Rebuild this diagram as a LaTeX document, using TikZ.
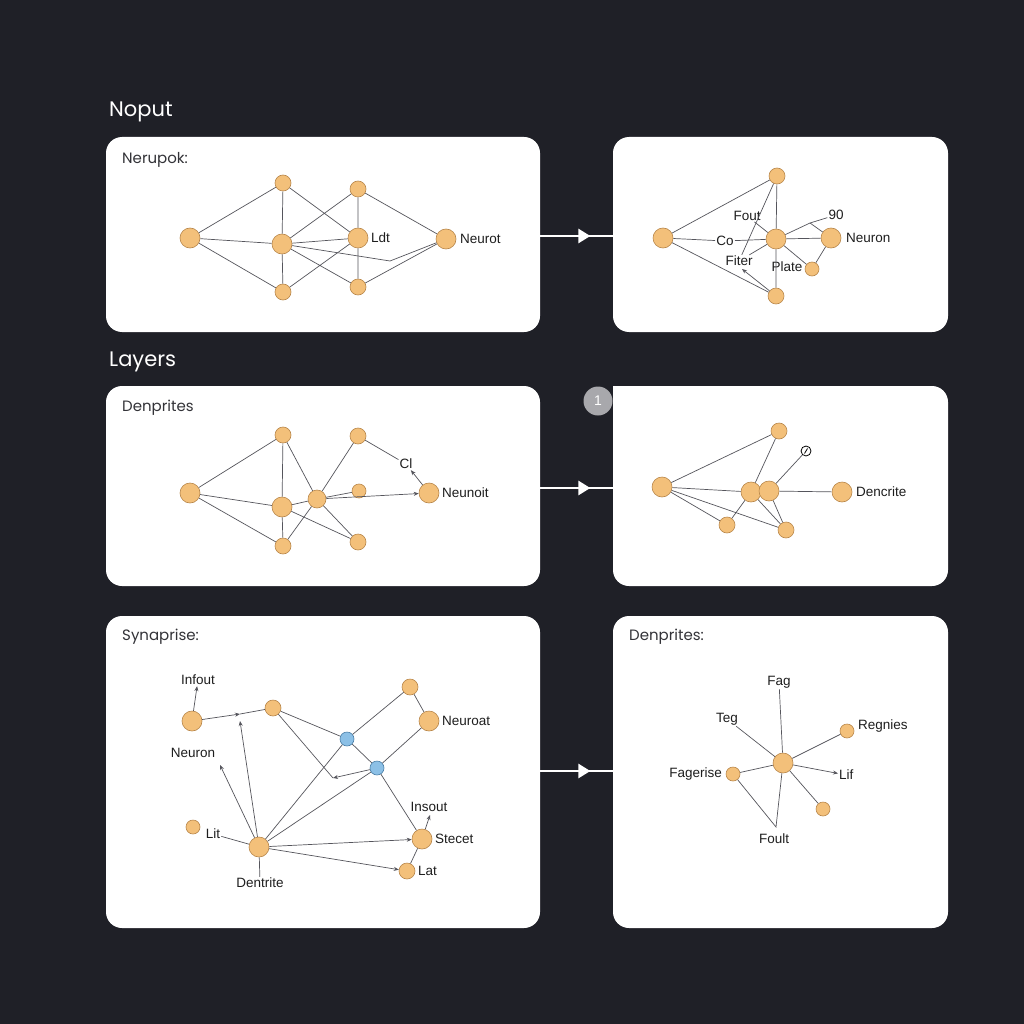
\documentclass[tikz,border=0pt]{standalone}
\usepackage{fontspec}
\setmainfont{Liberation Sans}
\newfontfamily\titlefont{Poppins}
\usetikzlibrary{arrows.meta,decorations.markings}
\definecolor{bg}{HTML}{1F2027}
\definecolor{of}{HTML}{F3C07A}
\definecolor{ob}{HTML}{B8864A}
\definecolor{bf}{HTML}{8CC0E6}
\definecolor{bb}{HTML}{4A7FA8}
\definecolor{lnc}{HTML}{55555C}
\definecolor{tx}{HTML}{1E1E1E}
\definecolor{hdc}{HTML}{333338}
\definecolor{gc}{HTML}{A8A8AC}
\begin{document}
\begin{tikzpicture}[x=1pt,y=-1pt,
  on/.style={circle,draw=ob,fill=of,line width=0.6pt,inner sep=0pt,minimum size=#1},
  on/.default=16pt,
  bn/.style={circle,draw=bb,fill=bf,line width=0.6pt,inner sep=0pt,minimum size=14pt},
  lab/.style={font=\fontsize{13.5}{14}\selectfont,text=tx,inner sep=1pt},
  edg/.style={draw=lnc,line width=0.7pt},
  arr/.style={edg,-{Stealth[length=5pt,width=4pt]}},
  hd/.style={font=\titlefont\fontsize{15}{16}\selectfont,text=hdc,anchor=west,inner sep=0pt},
  tt/.style={font=\titlefont\fontsize{21}{22}\selectfont,text=white,anchor=west,inner sep=0pt},
  panel/.style={fill=white,rounded corners=16pt,inner sep=0pt},
  flow/.style={draw=white,line width=2.6pt,postaction={decorate},
    decoration={markings,mark=at position 0.69 with {\arrow{Triangle[length=12pt,width=14pt]}}}}
]
\path[fill=bg] (0,0) rectangle (1024,1024);

% titles
\node[tt] (tnoput) at (109,112) {Noput};
\node[tt] (tlayers) at (109,362) {Layers};

% panels
\node[panel,minimum width=434pt,minimum height=195pt] (p1) at (323,234.5) {};
\node[panel,minimum width=335pt,minimum height=195pt] (p2) at (780.5,234.5) {};
\node[panel,minimum width=434pt,minimum height=200pt] (p3) at (323,486) {};
\node[panel,minimum width=335pt,minimum height=200pt] (p4) at (780.5,486) {};
\path[fill=white] (613,386) rectangle (640,410);
\node[panel,minimum width=434pt,minimum height=312pt] (p5) at (323,772) {};
\node[panel,minimum width=335pt,minimum height=312pt] (p6) at (780.5,772) {};

% flow arrows
\coordinate (o1) at (540,236); \coordinate (i1) at (613,236);
\coordinate (o2) at (540,488); \coordinate (i2) at (613,488);
\coordinate (o3) at (540,771); \coordinate (i3) at (613,771);
\draw[flow] (o1) -- (i1);
\draw[flow] (o2) -- (i2);
\draw[flow] (o3) -- (i3);

\node[circle,fill=gc,minimum size=29pt,inner sep=0pt,text=white,font=\fontsize{14}{14}\selectfont] (badge) at (598,401) {1};

% headers
\node[hd] (h1) at (122,160) {Nerupok:};
\node[hd] (h3) at (122,408) {Denprites};
\node[hd] (h5) at (122,637) {Synaprise:};
\node[hd] (h6) at (629,637) {Denprites:};

% ---------- panel 1
\node[on=20pt] (a1) at (190,238) {};
\node[on] (b1) at (283,183) {};
\node[on=20pt] (c1) at (282,244) {};
\node[on] (d1) at (283,292) {};
\node[on] (e1) at (358,189) {};
\node[on=20pt] (f1) at (358,238) {};
\node[on] (g1) at (358,287) {};
\node[on=20pt] (h1n) at (446,239) {};
\node[lab,anchor=west] (lf1) at (370,238) {Ldt};
\node[lab,anchor=west] (lh1) at (459,239) {Neurot};
\coordinate (k1) at (390,261);
\draw[edg] (a1)--(b1) (a1)--(c1) (a1)--(d1) (b1)--(c1) (c1)--(d1) (b1)--(f1)
  (c1)--(e1) (c1)--(f1) (e1)--(f1) (e1)--(h1n) (f1)--(g1) (c1)--(g1) (d1)--(f1) (g1)--(h1n);
\draw[edg] (c1)--(k1)--(h1n);

% ---------- panel 2
\node[on=20pt] (a2) at (663,238) {};
\node[on] (b2) at (777,176) {};
\node[on=20pt] (c2) at (776,239) {};
\node[on] (d2) at (776,296) {};
\node[on=20pt] (e2) at (831,238) {};
\node[on=14pt] (f2) at (812,269) {};
\node[lab,anchor=west] (ln2) at (845,238) {Neuron};
\node[lab] (fo2) at (747,216) {Fout};
\node[lab] (co2) at (725,241) {Co};
\node[lab] (fi2) at (739,261) {Fiter};
\node[lab] (pl2) at (787,267) {Plate};
\node[lab] (n2) at (836,215) {90};
\coordinate (j2) at (810,223);
\coordinate (q2) at (742,269);
\draw[edg] (a2)--(b2) (a2)--(co2) (co2)--(c2) (a2)--(d2) (b2)--(c2) (b2)--(fi2)
  (fo2)--(c2) (c2)--(e2) (c2)--(f2) (f2)--(e2) (c2)--(d2) (fi2)--(c2);
\draw[edg] (c2)--(j2)--(n2) (j2)--(e2);
\draw[arr] (d2)--(q2);

% ---------- panel 3
\node[on=20pt] (a3) at (190,493) {};
\node[on] (b3) at (283,435) {};
\node[on=20pt] (c3) at (282,507) {};
\node[on] (d3) at (283,546) {};
\node[on] (e3) at (358,436) {};
\node[on=18pt] (f3) at (317,499) {};
\node[on=14pt] (g3) at (359,491) {};
\node[on] (h3n) at (358,542) {};
\node[on=20pt] (n3) at (429,493) {};
\node[lab,anchor=west] (ln3) at (441,493) {Neunoit};
\node[lab] (cl3) at (406,464) {Cl};
\draw[edg] (a3)--(b3) (a3)--(c3) (a3)--(d3) (b3)--(c3) (b3)--(f3) (c3)--(d3) (c3)--(f3)
  (d3)--(f3) (e3)--(f3) (f3)--(g3) (f3)--(h3n) (c3)--(h3n) (e3)--(cl3);
\draw[arr] (f3)--(n3);
\draw[arr] (n3)--(cl3);

% ---------- panel 4
\node[on=20pt] (a4) at (662,487) {};
\node[on] (b4) at (779,431) {};
\node[on=20pt] (c4) at (751,492) {};
\node[on=20pt] (d4) at (769,491) {};
\node[on=20pt] (e4) at (842,492) {};
\node[on] (f4) at (727,525) {};
\node[on] (g4) at (786,530) {};
\node[circle,draw=black,fill=white,line width=0.8pt,inner sep=0pt,minimum size=10pt] (s4) at (806,451) {};
\draw[line width=0.8pt] ([shift={(-1.5,2.5)}]s4.center) -- ([shift={(1.5,-2.5)}]s4.center);
\node[lab,anchor=west] (le4) at (855,492) {Dencrite};
\draw[edg] (a4)--(b4) (a4)--(c4) (a4)--(f4) (a4)--(g4) (b4)--(c4) (f4)--(c4)
  (c4)--(g4) (d4)--(g4) (d4)--(s4) (d4)--(e4);

% ---------- panel 5
\node[on=20pt] (in5) at (192,721) {};
\node[on] (t5) at (273,708) {};
\node[bn] (u5) at (347,739) {};
\node[bn] (v5) at (377,768) {};
\node[on] (w5) at (410,687) {};
\node[on=20pt] (nr5) at (429,721) {};
\node[on=14pt] (li5) at (193,827) {};
\node[on=20pt] (dn5) at (259,847) {};
\node[on=20pt] (st5) at (422,839) {};
\node[on] (la5) at (407,871) {};
\node[lab] (linf) at (198,680) {Infout};
\node[lab] (lneu) at (193,753) {Neuron};
\node[lab] (llit) at (213,834) {Lit};
\node[lab] (lden) at (260,883) {Dentrite};
\node[lab,anchor=west] (lnr) at (441,721) {Neuroat};
\node[lab] (lins) at (429,807) {Insout};
\node[lab,anchor=west] (lst) at (434,839) {Stecet};
\node[lab,anchor=west] (lla) at (417,871) {Lat};
\coordinate (m5) at (333,778);
\coordinate (q5) at (240,714);
\coordinate (r5) at (240,721);
\coordinate (nt5) at (220,765);
\coordinate (it5) at (430,815);
\draw[arr] (in5)--(linf);
\draw[arr] (in5)--(q5);
\draw[edg] (q5)--(t5);
\draw[arr] (dn5)--(r5);
\draw[edg] (t5)--(u5) (t5)--(m5) (u5)--(w5) (w5)--(nr5) (nr5)--(v5) (u5)--(v5)
  (u5)--(dn5) (v5)--(dn5) (v5)--(st5) (dn5)--(llit) (dn5)--(lden) (la5)--(st5);
\draw[arr] (v5)--(m5);
\draw[arr] (dn5)--(nt5);
\draw[arr] (dn5)--(st5);
\draw[arr] (dn5)--(la5);
\draw[arr] (st5)--(it5);

% ---------- panel 6
\node[on=20pt] (cn6) at (783,763) {};
\node[on=14pt] (fg6) at (733,774) {};
\node[on=14pt] (rg6) at (847,731) {};
\node[on=14pt] (lo6) at (823,809) {};
\node[lab] (lfag) at (779,682) {Fag};
\node[lab] (lteg) at (727,719) {Teg};
\node[lab,anchor=west] (lrg) at (857,726) {Regnies};
\node[lab,anchor=east] (lfg) at (723,774) {Fagerise};
\node[lab,anchor=west] (llif) at (838,775) {Lif};
\node[lab] (lfo) at (774,839) {Foult};
\coordinate (fv6) at (776,827);
\draw[edg] (cn6)--(lfag) (cn6)--(lteg) (cn6)--(rg6) (cn6)--(fg6) (cn6)--(lo6) (cn6)--(fv6)--(fg6);
\draw[arr] (cn6)--(llif);
\end{tikzpicture}
\end{document}
